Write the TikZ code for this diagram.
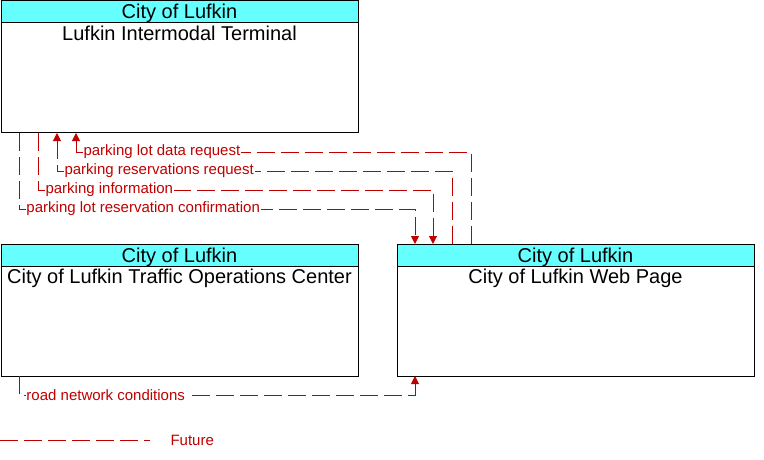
\documentclass[tikz,border=0pt]{standalone}
\usepackage{fontspec}
\setmainfont{Liberation Sans}
\usetikzlibrary{arrows.meta,positioning}
\definecolor{hdrcyan}{RGB}{102,255,255}
\definecolor{flowred}{RGB}{192,0,0}

\begin{document}
\begin{tikzpicture}[
    x=1pt, y=-1pt, line width=1pt,
    >={Triangle[length=8pt,width=8pt]},
    hdr/.style={draw, fill=hdrcyan, minimum width=357pt, minimum height=22pt, inner sep=0pt, outer sep=0pt, text depth=0pt, text height=14pt, font=\fontsize{20}{22}\selectfont},
    elem/.style={draw, fill=white, minimum width=357pt, minimum height=110pt, inner sep=0pt, outer sep=0pt},
    ttl/.style={anchor=north, inner sep=3pt, font=\fontsize{20}{22}\selectfont},
    flow/.style={draw=flowred, dash pattern=on 18pt off 6pt},
    lbl/.style={text=flowred, fill=white, inner sep=1pt, anchor=west, xshift=6pt, font=\fontsize{15}{17}\selectfont}
]
\useasboundingbox (0,0) rectangle (764,460);
% Elements
\node[hdr, anchor=north west] (termhdr) at (1,1) {City of Lufkin};
\node[elem, below=0pt of termhdr, label={[ttl]north:Lufkin Intermodal Terminal}] (term) {};
\node[hdr, anchor=north west] (tochdr) at (1,244) {City of Lufkin};
\node[elem, below=0pt of tochdr, label={[ttl]north:City of Lufkin Traffic Operations Center}] (toc) {};
\node[hdr, anchor=north west] (webhdr) at (397,244) {City of Lufkin};
\node[elem, below=0pt of webhdr, label={[ttl]north:City of Lufkin Web Page}] (web) {};
% Flows between terminal and web page
\draw[flow, <-] ([xshift=75pt]term.south west) -- ++(0,19) node[lbl] {parking lot data request} -| ([xshift=74pt]webhdr.north west);
\draw[flow, <-] ([xshift=56pt]term.south west) -- ++(0,38) node[lbl] {parking reservations request} -| ([xshift=55pt]webhdr.north west);
\draw[flow, ->] ([xshift=37pt]term.south west) -- ++(0,57) node[lbl] {parking information} -| ([xshift=36pt]webhdr.north west);
\draw[flow, ->] ([xshift=18pt]term.south west) -- ++(0,76) node[lbl] {parking lot reservation confirmation} -| ([xshift=18pt]webhdr.north west);
% Flow from traffic operations center
\draw[flow, ->] ([xshift=18pt]toc.south west) -- ++(0,19) node[lbl] {road network conditions} -| ([xshift=18pt]web.south west);
% Legend
\coordinate (legstart) at (0,440);
\node[text=flowred, anchor=west, inner sep=0pt, font=\fontsize{15}{17}\selectfont] (future) at (170,440) {Future};
\draw[flow] (legstart) -- ([xshift=-20pt]future.west);
\end{tikzpicture}
\end{document}
